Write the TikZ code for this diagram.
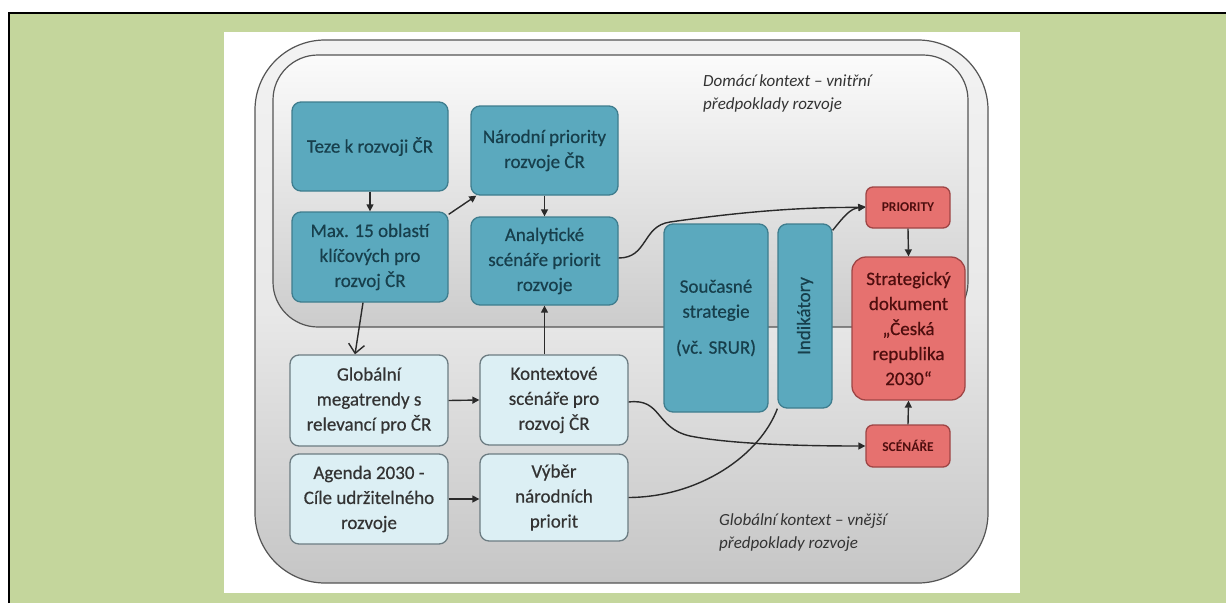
\documentclass[tikz,border=0pt]{standalone}
\usepackage{fontspec}
\setmainfont{Carlito}
\newfontfamily\semibfam[FakeBold=0.5]{Carlito}
\usetikzlibrary{arrows.meta,calc}
\definecolor{bggreen}{HTML}{C4D69C}
\definecolor{tealf}{HTML}{5BA9BE}
\definecolor{tealb}{HTML}{3F7D8E}
\definecolor{tealt}{HTML}{173F4C}
\definecolor{lightf}{HTML}{DCEFF4}
\definecolor{lightb}{HTML}{6C7C82}
\definecolor{lightt}{HTML}{333333}
\definecolor{redf}{HTML}{E6716F}
\definecolor{redbd}{HTML}{9E4545}
\definecolor{redt}{HTML}{4E0E0E}
\definecolor{arrc}{HTML}{2A2A2A}
\definecolor{framec}{HTML}{555555}
\newcommand{\boxfont}{\semibfam\fontsize{19pt}{25pt}\selectfont}
\begin{document}
\begin{tikzpicture}[x=1pt,y=-1pt,
  basebox/.style={rounded corners=9pt, line width=1.3pt, align=center, inner sep=0pt, font=\boxfont},
  tealbox/.style={basebox, draw=tealb, fill=tealf, text=tealt},
  lightbox/.style={basebox, draw=lightb, fill=lightf, text=lightt},
  redbox/.style={basebox, draw=redbd, fill=redf, text=redt},
  arr/.style={draw=arrc, line width=1.4pt, -{Triangle[length=7pt,width=7pt]}},
  plainline/.style={draw=arrc, line width=1.4pt},
  ctxlabel/.style={anchor=north west, align=left, font=\fontsize{17pt}{23pt}\selectfont\itshape, text=black!80, inner sep=0pt}
]
\useasboundingbox (0,0) rectangle (1226,603);
% frame
\fill[bggreen] (9,13) rectangle (1226,603);
\draw[black, line width=2pt] (9,603) -- (9,13) -- (1226,13);
\fill[white] (224,32) rectangle (1020,593);
% context regions
\draw[framec, line width=1.2pt, rounded corners=70pt, top color=gray!10, bottom color=gray!45, middle color=gray!18]
  (255,40) rectangle (988,583);
\draw[framec, line width=1.2pt, rounded corners=45pt, top color=gray!3, bottom color=gray!40]
  (273,55) rectangle (968,327);
\node[ctxlabel] (dom) at (703,74) {Domácí kontext – vnitřní\\předpoklady rozvoje};
\node[ctxlabel] (glo) at (719,513) {Globální kontext – vnější\\předpoklady rozvoje};
% boxes
\node[tealbox, minimum width=156pt, minimum height=89pt] (teze) at (370,146.5) {Teze k rozvoji ČR};
\node[tealbox, minimum width=156pt, minimum height=90pt] (max) at (370,257) {Max. 15 oblastí\\klíčových pro\\rozvoj ČR};
\node[tealbox, minimum width=147pt, minimum height=89pt] (nar) at (544.5,150.5) {Národní priority\\rozvoje ČR};
\node[tealbox, minimum width=147pt, minimum height=88pt] (ana) at (544.5,261) {Analytické\\scénáře priorit\\rozvoje};
\node[lightbox, minimum width=158pt, minimum height=91pt] (glob) at (369,400.5) {Globální\\megatrendy s\\relevancí pro ČR};
\node[lightbox, minimum width=148pt, minimum height=90pt] (kont) at (554,400) {Kontextové\\scénáře pro\\rozvoj ČR};
\node[lightbox, minimum width=158pt, minimum height=90pt] (agen) at (369,499) {Agenda 2030 -\\Cíle udržitelného\\rozvoje};
\node[lightbox, minimum width=148pt, minimum height=87pt] (vyb) at (554,497.5) {Výběr\\národních\\priorit};
\node[tealbox, minimum width=104pt, minimum height=188pt] (soucas) at (716,318) {Současné\\strategie\\[11pt](vč. SRUR)};
\node[tealbox, minimum width=184pt, minimum height=54pt, rotate=90] (ind) at (805,316) {Indikátory};
\node[redbox, minimum width=84pt, minimum height=41pt, rounded corners=7pt, font=\fontsize{13.5pt}{16pt}\selectfont\bfseries] (pri) at (908,207.5) {PRIORITY};
\node[redbox, minimum width=113pt, minimum height=143pt, rounded corners=14pt] (str) at (908.5,328.5) {Strategický\\dokument\\„Česká\\republika\\2030“};
\node[redbox, minimum width=84pt, minimum height=42pt, rounded corners=7pt, font=\fontsize{13.5pt}{16pt}\selectfont\bfseries] (sce) at (908,446) {SCÉNÁŘE};
% connectors
\draw[arr] (teze.south) -- (max.north);
\draw[arr] ([yshift=-3pt]max.north east) -- ([xshift=6pt]nar.south west);
\draw[arr] (nar.south) -- (ana.north);
\draw[draw=arrc, line width=1.4pt, -{Straight Barb[length=9pt,width=16pt,line width=1.4pt]}] ([xshift=-7pt]max.south) -- ([xshift=-14pt]glob.north);
\draw[arr] (ana.south |- kont.north) -- (ana.south);
\draw[arr] (glob.east) -- (kont.west);
\draw[arr] (agen.east) -- (agen.east -| vyb.west);
\draw[arr] ([yshift=3pt]ana.east) .. controls (648,258) and (642,226) .. (670,222) .. controls (740,212) and (800,207) .. (pri.west);
\draw[arr] ([yshift=-7pt]ind.south east) .. controls (845,215) and (850,209) .. ([yshift=1pt]pri.west);
\draw[arr] ([yshift=-2pt]kont.east) .. controls (662,398) and (655,428) .. (690,436) .. controls (730,444) and (800,446) .. (sce.west);
\draw[plainline] (vyb.east) .. controls (700,497) and (760,455) .. (ind.north west);
\draw[arr] (pri.south) -- (str.north);
\draw[arr] (sce.north) -- (str.south);
\end{tikzpicture}
\end{document}
